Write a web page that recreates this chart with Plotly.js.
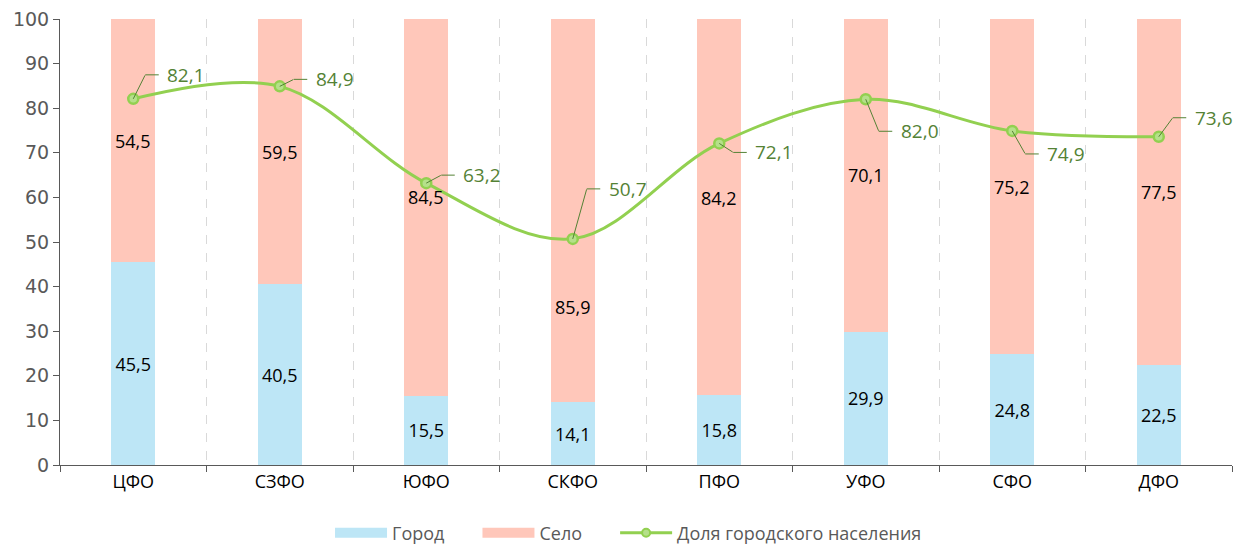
<!DOCTYPE html>
<html>
<head>
<meta charset="utf-8">
<script src="https://cdn.plot.ly/plotly-3.0.1.min.js"></script>
<style>
  html, body { margin: 0; padding: 0; background: #ffffff; }
  #chart { width: 1238px; height: 544px; }
</style>
</head>
<body>
<div id="chart"></div>
<script>
// ---- data ----
const categories = ['ЦФО', 'СЗФО', 'ЮФО', 'СКФО', 'ПФО', 'УФО', 'СФО', 'ДФО'];
const gorod = [45.5, 40.5, 15.5, 14.1, 15.8, 29.9, 24.8, 22.5];
const selo = [54.5, 59.5, 84.5, 85.9, 84.2, 70.1, 75.2, 77.5];
const dolya = [82.1, 84.9, 63.2, 50.7, 72.1, 82.0, 74.9, 73.6];
const seriesNames = ['Город', 'Село', 'Доля городского населения'];

// ---- styling / label placement (pixels) ----
const FONT = 'Open Sans';
const FS = 18;
const cBlue = '#BDE6F6';
const cSalmon = '#FFC7BA';
const cGreen = '#92D050';
const cLabel = '#548235';
// leader-line elbow offsets (px, right / down) for the share labels
const leaderDx = [12, 14, 15, 14, 14, 13, 13, 14];
const leaderDy = [-24, -7, -8, -50, 9, 32, 23, -19];
// extra vertical shift (px, positive = up) of the "Село" labels
const seloShift = [0, 0, 10, -96, 9, 0, 0, 0];
// extra spacing after legend entries
const legendPad = '\u00a0'.repeat(6);

const fmt = v => v.toFixed(1).replace('.', ',');

const traces = [
  {
    type: 'bar', name: seriesNames[0], x: categories, y: gorod,
    marker: { color: cBlue }, width: 0.3,
    text: gorod.map(fmt), textposition: 'inside', insidetextanchor: 'middle',
    textfont: { family: FONT, size: FS, color: '#000000' },
    hoverinfo: 'skip', showlegend: false
  },
  {
    type: 'bar', name: seriesNames[1], x: categories, y: selo,
    marker: { color: cSalmon }, width: 0.3,
    hoverinfo: 'skip', showlegend: false
  },
  {
    type: 'scatter', mode: 'lines+markers', name: seriesNames[2], x: categories, y: dolya,
    line: { color: cGreen, width: 3, shape: 'spline', smoothing: 1 },
    marker: { symbol: 'circle', size: 10, color: '#B5E08A', line: { color: cGreen, width: 2.5 } },
    hoverinfo: 'skip', showlegend: false
  },
  // legend-only entries
  { type: 'scatter', mode: 'lines', name: seriesNames[0] + legendPad, x: [null], y: [null],
    line: { color: cBlue, width: 13 }, hoverinfo: 'skip' },
  { type: 'scatter', mode: 'lines', name: seriesNames[1] + legendPad, x: [null], y: [null],
    line: { color: cSalmon, width: 13 }, hoverinfo: 'skip' },
  { type: 'scatter', mode: 'lines+markers', name: seriesNames[2], x: [null], y: [null],
    line: { color: cGreen, width: 3 },
    marker: { symbol: 'circle', size: 8, color: '#B5E08A', line: { color: cGreen, width: 2 } },
    hoverinfo: 'skip' }
];

const annotations = [];
categories.forEach((c, i) => {
  // Село label
  annotations.push({
    x: c, y: gorod[i] + selo[i] / 2, xref: 'x', yref: 'y',
    text: fmt(selo[i]), showarrow: false, yshift: seloShift[i],
    font: { family: FONT, size: FS, color: '#000000' }
  });
  // leader: diagonal part
  annotations.push({
    x: c, y: dolya[i], xref: 'x', yref: 'y', text: '',
    showarrow: true, arrowhead: 0, arrowwidth: 1, arrowcolor: cLabel,
    ax: leaderDx[i], ay: leaderDy[i], axref: 'pixel', ayref: 'pixel', borderpad: 0
  });
  // leader: horizontal part + label
  annotations.push({
    x: c, y: dolya[i], xref: 'x', yref: 'y', text: fmt(dolya[i]),
    xshift: leaderDx[i], yshift: -leaderDy[i],
    showarrow: true, arrowhead: 0, arrowwidth: 1, arrowcolor: cLabel,
    ax: 41, ay: 0, borderpad: 8,
    font: { family: FONT, size: FS + 1, color: cLabel }
  });
});

const layout = {
  width: 1238, height: 544,
  margin: { l: 60, r: 6, t: 19, b: 79, autoexpand: false },
  paper_bgcolor: '#ffffff', plot_bgcolor: '#ffffff',
  barmode: 'stack',
  font: { family: FONT, size: FS, color: '#595959' },
  showlegend: true,
  legend: {
    orientation: 'h', traceorder: 'normal',
    x: 0.2304, xanchor: 'left', y: -0.1525, yanchor: 'middle',
    font: { family: FONT, size: FS, color: '#595959' },
    itemwidth: 52, tracegroupgap: 0
  },
  xaxis: {
    type: 'category', range: [-0.5, 7.5], tickson: 'boundaries',
    ticks: 'outside', ticklen: 6, tickcolor: '#595959', tickwidth: 1,
    showline: true, linecolor: '#595959', linewidth: 1,
    showgrid: true, gridcolor: '#D9D9D9', griddash: 'dash', gridwidth: 1,
    tickfont: { family: FONT, size: FS, color: '#000000' },
    zeroline: false, fixedrange: true
  },
  yaxis: {
    range: [0, 100], dtick: 10, tick0: 0,
    ticks: 'outside', ticklen: 6, tickcolor: '#595959', tickwidth: 1,
    showline: true, linecolor: '#595959', linewidth: 1,
    showgrid: false, zeroline: false,
    tickfont: { family: 'DejaVu Sans', size: 19, color: '#595959' },
    fixedrange: true
  },
  annotations: annotations
};

Plotly.newPlot('chart', traces, layout, { staticPlot: true, displayModeBar: false });
</script>
</body>
</html>
